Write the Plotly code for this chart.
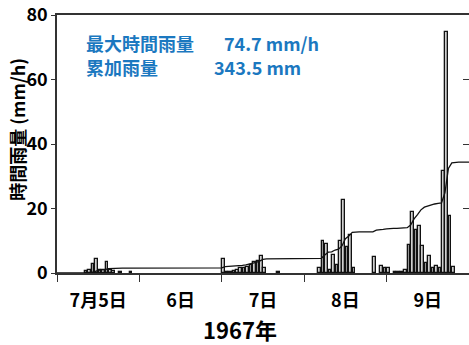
import numpy as np
import plotly.graph_objects as go

# Hourly rainfall (mm/h), 1967-07-05 00:00 through 1967-07-09 23:00
day5 = [0, 0, 0, 0, 0, 0, 0, 0, 0.5, 0.8, 2.8, 4.3, 1.0, 0.8, 3.4, 1.0,
        0.5, 0, 0.3, 0, 0, 0.3, 0, 0]
day6 = [0.0] * 24
day7 = [4.3, 0.3, 0.3, 0.7, 1.0, 1.4, 1.6, 2.0, 2.4, 3.3, 3.8, 5.4, 1.6,
        0, 0, 0, 0.3, 0, 0, 0, 0, 0, 0, 0]
day8 = [0, 0, 0, 0, 1.5, 10.0, 9.0, 1.0, 5.6, 2.6, 10.0, 22.6, 8.0, 11.8,
        1.6, 0, 0, 0, 0, 0, 5.0, 0, 2.2, 1.6]
day9 = [1.6, 0, 0.4, 0.4, 0.4, 1.0, 8.6, 18.8, 13.4, 14.6, 8.4, 3.2, 5.2,
        1.4, 2.2, 1.4, 31.6, 74.7, 17.8, 1.8, 0, 0, 0, 0]

day_labels = ["7月5日", "6日", "7日", "8日", "9日"]
year_label = "1967年"

rain = np.array(day5 + day6 + day7 + day8 + day9)
hours = np.arange(len(rain))            # hours since 07-05 00:00
cumulative = np.cumsum(rain)

# dry hours get no bar at all (otherwise their outlines thicken the baseline)
wet = rain > 0

FONT = "Noto Sans CJK JP"
BLUE = "#1b78c0"

fig = go.Figure()

fig.add_trace(go.Bar(
    x=hours[wet] + 0.5, y=rain[wet], width=0.75,
    marker=dict(color="#cfcfcf", line=dict(color="#111111", width=1.3)),
    showlegend=False,
))

fig.add_trace(go.Scatter(
    x=np.concatenate([[0], hours + 1]), y=np.concatenate([[0], cumulative]),
    mode="lines", line=dict(color="#111111", width=1.3),
    yaxis="y2", showlegend=False,
))

fig.update_layout(
    width=469, height=345,
    margin=dict(l=57, r=0, t=15, b=72),
    paper_bgcolor="white", plot_bgcolor="white",
    font=dict(family=FONT, color="black"),
    bargap=0,
    xaxis=dict(
        range=[0, 120],
        tickvals=[12, 36, 60, 84, 108],
        ticktext=[f"<b>{t}</b>" for t in day_labels],
        ticks="", ticklabelstandoff=11,
        tickfont=dict(size=18, family=FONT),
        minor=dict(tickvals=[0, 24, 48, 72, 96], ticks="outside",
                   ticklen=7, tickcolor="#333333", tickwidth=1.2),
        showline=True, linecolor="#333333", linewidth=1.5, mirror=True,
        showgrid=False, zeroline=False,
    ),
    yaxis=dict(
        range=[0, 80], tickvals=[0, 20, 40, 60, 80],
        ticktext=[f"<b>{v}</b>" for v in [0, 20, 40, 60, 80]],
        ticks="outside", ticklen=4, tickcolor="#333333",
        tickfont=dict(size=18, family=FONT),
        showline=True, linecolor="#333333", linewidth=1.5,
        showgrid=False, zeroline=False,
    ),
    yaxis2=dict(
        range=[0, 800], overlaying="y", side="right",
        tickvals=[200, 400, 600], ticks="inside", ticklen=6,
        tickcolor="#333333", showticklabels=False,
        showline=False, showgrid=False, zeroline=False,
    ),
)

annotations = [
    dict(text="<b>時間雨量 (mm/h)</b>", x=-0.097, y=0.555, textangle=-90,
         font=dict(size=18, color="black"), xanchor="center", yanchor="middle"),
    dict(text=f"<b>{year_label}</b>", x=0.444, y=-0.218,
         font=dict(size=22, color="black"), xanchor="center", yanchor="middle"),
    dict(text="<b>最大時間雨量</b>", x=0.066, y=0.893,
         font=dict(size=18, color=BLUE), xanchor="left", yanchor="middle"),
    dict(text=f"<b>{rain.max():.1f} mm/h</b>", x=0.40, y=0.893,
         font=dict(size=18, color=BLUE), xanchor="left", yanchor="middle"),
    dict(text="<b>累加雨量</b>", x=0.066, y=0.80,
         font=dict(size=18, color=BLUE), xanchor="left", yanchor="middle"),
    dict(text=f"<b>{cumulative[-1]:.1f} mm</b>", x=0.376, y=0.80,
         font=dict(size=18, color=BLUE), xanchor="left", yanchor="middle"),
]
for a in annotations:
    fig.add_annotation(xref="paper", yref="paper", showarrow=False,
                       font_family=FONT, **a)

fig.write_html("out.html")
